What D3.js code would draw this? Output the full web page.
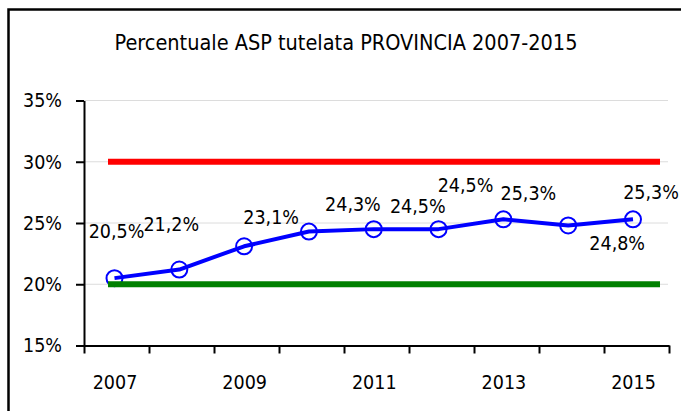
<!DOCTYPE html>
<html>
<head>
<meta charset="utf-8">
<script src="https://cdn.jsdelivr.net/npm/d3@7"></script>
<style>
  html, body { margin: 0; padding: 0; background: #fff; }
  svg text { font-family: "DejaVu Sans Condensed", "DejaVu Sans", sans-serif; font-stretch: condensed; fill: #000; }
</style>
</head>
<body>
<svg id="chart" width="681" height="411"></svg>
<script>
// ---- data ----
const years = [2007, 2008, 2009, 2010, 2011, 2012, 2013, 2014, 2015];
const values = [20.5, 21.2, 23.1, 24.3, 24.5, 24.5, 25.3, 24.8, 25.3];
const yTicks = [15, 20, 25, 30, 35];
const xTickLabels = [2007, 2009, 2011, 2013, 2015];
const thresholdValues = [30, 20];
const thresholdColors = ["#ff0000", "#008000"];
const titleText = "Percentuale ASP tutelata PROVINCIA 2007-2015";
// label placement offsets (pixels, relative to each point)
const labelDx = [2, -8, 27, 44, 44, 27, 25, 49, 18];
const labelDy = [-40, -39, -22, -21, -16, -37, -19, 25, -20];

// ---- layout ----
const W = 681, H = 411;
const svg = d3.select("#chart");
svg.append("rect").attr("width", W).attr("height", H).attr("fill", "#fff");

// outer frame (only left and top visible)
svg.append("rect")
  .attr("x", 8.5).attr("y", 9.5).attr("width", 720).attr("height", 450)
  .attr("fill", "none").attr("stroke", "#000").attr("stroke-width", 2.5);

const plotLeft = 84, plotRight = 669, plotTop = 100.5, plotBottom = 345.5;

const y = d3.scaleLinear().domain([15, 35]).range([plotBottom, plotTop]);
const xBand = d3.scaleBand().domain(years).range([plotLeft, plotRight]);
const xPt = d3.scalePoint().domain(years).range([114.5, 633]);
const fmt = v => d3.format(".1f")(v).replace(".", ",") + "%";

// title
svg.append("text")
  .attr("x", 346).attr("y", 50)
  .attr("text-anchor", "middle")
  .style("font-size", "21.5px")
  .text(titleText);

// gridlines
svg.append("g").selectAll("line")
  .data(yTicks.filter(d => d > 15))
  .join("line")
  .attr("x1", plotLeft).attr("x2", 668)
  .attr("y1", d => y(d)).attr("y2", d => y(d))
  .attr("stroke", "#dcdcdc").attr("stroke-width", 1);

// y axis
const yAxis = svg.append("g")
  .attr("transform", `translate(${plotLeft},0)`)
  .call(d3.axisLeft(y).tickValues(yTicks).tickSize(8).tickSizeOuter(0).tickPadding(14).tickFormat(d => d + "%"));
yAxis.selectAll("text").style("font-size", "19.5px");
yAxis.selectAll("path, line").attr("stroke", "#000").attr("stroke-width", 2);

// x axis boundary ticks
const bounds = years.map(d => xBand(d)).concat([xBand(years[years.length - 1]) + xBand.bandwidth()]);
const xAxis = svg.append("g")
  .attr("transform", `translate(0,${plotBottom})`)
  .call(d3.axisBottom(d3.scaleLinear().domain([plotLeft, plotRight]).range([plotLeft, plotRight]))
    .tickValues(bounds).tickSize(8).tickSizeOuter(0).tickFormat(""));
xAxis.selectAll("path, line").attr("stroke", "#000").attr("stroke-width", 2);

// x labels
const xLab = svg.append("g")
  .attr("transform", `translate(0,${plotBottom})`)
  .call(d3.axisBottom(xPt).tickValues(xTickLabels).tickSize(0).tickPadding(30));
xLab.select(".domain").remove();
xLab.selectAll("text").style("font-size", "19.5px");

// series line
const pts = years.map((yr, i) => ({ yr, v: values[i], i }));
svg.append("path")
  .datum(pts)
  .attr("fill", "none")
  .attr("stroke", "#0000ff")
  .attr("stroke-width", 4)
  .attr("stroke-linejoin", "round")
  .attr("d", d3.line().x(d => xPt(d.yr)).y(d => y(d.v)));

svg.append("g").selectAll("circle")
  .data(pts)
  .join("circle")
  .attr("cx", d => xPt(d.yr)).attr("cy", d => y(d.v))
  .attr("r", 8)
  .attr("fill", "none")
  .attr("stroke", "#0000ff")
  .attr("stroke-width", 2);

// threshold lines
svg.append("g").selectAll("line")
  .data(thresholdValues)
  .join("line")
  .attr("x1", xBand(years[0]) + 24)
  .attr("x2", xBand(years[years.length - 1]) + xBand.bandwidth() - 9)
  .attr("y1", d => y(d)).attr("y2", d => y(d))
  .attr("stroke", (d, i) => thresholdColors[i])
  .attr("stroke-width", 6);

// data labels
svg.append("g").selectAll("text")
  .data(pts)
  .join("text")
  .attr("x", d => xPt(d.yr) + labelDx[d.i])
  .attr("y", d => y(d.v) + labelDy[d.i])
  .attr("text-anchor", "middle")
  .style("font-size", "19.5px")
  .text(d => fmt(d.v));
</script>
</body>
</html>
